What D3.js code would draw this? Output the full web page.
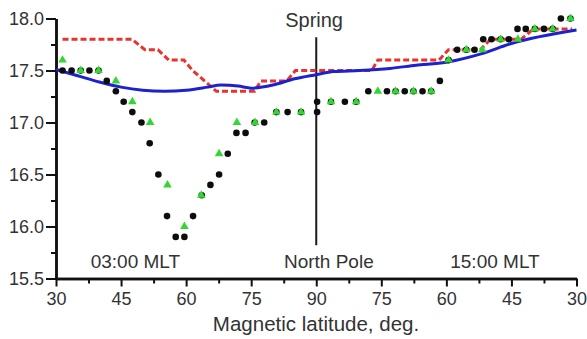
<!DOCTYPE html>
<html>
<head>
<meta charset="utf-8">
<script src="https://cdn.jsdelivr.net/npm/d3@7"></script>
<style>
	body { margin: 0; background: #fff; }
	text { font-family: "Liberation Sans", Arial, sans-serif; fill: #333; }
	.axis path, .axis line { stroke: #111; }
</style>
</head>
<body>
<div id="container"></div>
<script>
// positions along the track in degrees (0 = 30 deg at 03:00 MLT, 60 = pole, 120 = 30 deg at 15:00 MLT)
var xTickPos = [0, 15, 30, 45, 60, 75, 90, 105, 120];
var xTickLabels = ["30", "45", "60", "75", "90", "75", "60", "45", "30"];
var xMinorPos = [7.5, 22.5, 37.5, 52.5, 67.5, 82.5, 97.5, 112.5];
var yTicks = [15.5, 16.0, 16.5, 17.0, 17.5, 18.0];
var yMinor = [15.75, 16.25, 16.75, 17.25, 17.75];

// black dots
var blackPos = [1.5, 3.6, 5.7, 7.7, 9.8, 11.7, 13.8, 15.6, 17.6, 19.7, 21.6, 23.6, 25.6, 27.6, 29.6,
	31.6, 33.6, 35.6, 37.6, 39.6, 41.6, 43.7, 45.8, 48.0, 50.8, 53.4, 56.5, 60.2, 60.2, 63.4, 66.6,
	69.2, 72.0, 76.3, 78.3, 80.4, 82.4, 84.5, 86.5, 88.5, 90.5, 92.5, 94.6, 96.5, 98.5, 100.4,
	102.5, 104.4, 106.4, 108.3, 110.4, 112.5, 114.5, 116.4, 118.6];
var blackVal = [17.5, 17.5, 17.5, 17.5, 17.5, 17.4, 17.3, 17.2, 17.1, 17.0, 16.8, 16.5, 16.1, 15.9, 15.9,
	16.1, 16.3, 16.4, 16.5, 16.7, 16.9, 16.9, 17.0, 17.0, 17.1, 17.1, 17.1, 17.1, 17.2, 17.2, 17.2,
	17.2, 17.3, 17.3, 17.3, 17.3, 17.3, 17.3, 17.3, 17.4, 17.6, 17.7, 17.7, 17.7, 17.8, 17.8,
	17.8, 17.8, 17.9, 17.9, 17.9, 17.9, 17.9, 18.0, 18.0];

// green triangles
var greenPos = [1.5, 5.7, 9.8, 13.8, 17.6, 21.7, 25.7, 29.6, 33.5, 37.6, 41.7, 45.9, 50.8, 56.5,
	63.4, 69.2, 74.2, 78.3, 82.4, 86.5, 90.5, 94.6, 98.3, 102.5, 106.5, 110.4, 114.5, 118.6];
var greenVal = [17.6, 17.5, 17.5, 17.4, 17.2, 17.0, 16.4, 16.0, 16.3, 16.7, 17.0, 17.0, 17.1, 17.1,
	17.2, 17.2, 17.3, 17.3, 17.3, 17.3, 17.6, 17.7, 17.7, 17.8, 17.8, 17.9, 17.9, 18.0];

// red dashed model
var redPos = [1.5, 17.5, 20.5, 23.5, 26, 29.5, 31.5, 37, 45.8, 47.2, 53.2, 55.2, 72.8, 74.2,
	88.3, 90.5, 97.8, 100.2, 107.2, 110.1, 119];
var redVal = [17.8, 17.8, 17.7, 17.7, 17.6, 17.6, 17.5, 17.3, 17.3, 17.4, 17.4, 17.5, 17.5, 17.6,
	17.6, 17.7, 17.7, 17.8, 17.8, 17.9, 17.9];

// blue solid model
var bluePos = [0, 5, 10, 15, 20, 25, 30, 35, 38, 42, 45, 50, 55, 60, 64, 70, 77, 83, 90, 98, 105, 120];
var blueVal = [17.51, 17.45, 17.39, 17.34, 17.31, 17.30, 17.31, 17.34, 17.36, 17.35, 17.33, 17.36,
	17.42, 17.46, 17.49, 17.50, 17.52, 17.55, 17.58, 17.66, 17.76, 17.89];

var polePos = 60, poleTop = 17.82, poleBottom = 15.82;

var W = 587, H = 339;

var xScale = d3.scaleLinear()
	.domain([0, 120])
	.range([56, 576.5]);

var yScale = d3.scaleLinear()
	.domain([15.5, 18.0])
	.range([278.5, 18.5]);

var svg = d3.select("#container")
	.append("svg")
		.attr("width", W)
		.attr("height", H);

// vertical pole line
svg.append("line")
	.attr("x1", xScale(polePos))
	.attr("x2", xScale(polePos))
	.attr("y1", yScale(poleTop))
	.attr("y2", yScale(poleBottom))
	.attr("stroke", "#1a1a1a")
	.attr("stroke-width", 2);

// axes
var yAxis = d3.axisLeft(yScale)
	.tickValues(yTicks)
	.tickFormat(d3.format(".1f"))
	.tickSize(10)
	.tickSizeOuter(0)
	.tickPadding(2);

var yMinorAxis = d3.axisLeft(yScale)
	.tickValues(yMinor)
	.tickFormat("")
	.tickSize(5)
	.tickSizeOuter(0);

var xAxis = d3.axisBottom(xScale)
	.tickValues(xTickPos)
	.tickFormat(function(d, i) { return xTickLabels[i]; })
	.tickSize(8)
	.tickSizeOuter(0)
	.tickPadding(6);

var xMinorAxis = d3.axisBottom(xScale)
	.tickValues(xMinorPos)
	.tickFormat("")
	.tickSize(5)
	.tickSizeOuter(0);

svg.append("g")
	.attr("class", "axis")
	.attr("transform", "translate(" + xScale(0) + ",0)")
	.call(yAxis);
svg.append("g")
	.attr("class", "axis")
	.attr("transform", "translate(" + xScale(0) + ",0)")
	.call(yMinorAxis);

svg.append("g")
	.attr("class", "axis")
	.attr("transform", "translate(0," + yScale(15.5) + ")")
	.call(xAxis);
svg.append("g")
	.attr("class", "axis")
	.attr("transform", "translate(0," + yScale(15.5) + ")")
	.call(xMinorAxis);

svg.selectAll(".axis path").attr("stroke-width", 2.5);
svg.selectAll(".axis line").attr("stroke-width", 2);
svg.selectAll(".axis text")
	.attr("fill", "#333")
	.style("font-size", "18px");

// model lines
var redData = redPos.map(function(d, i) { return [d, redVal[i]]; });
var blueData = bluePos.map(function(d, i) { return [d, blueVal[i]]; });

var line = d3.line()
	.x(function(d) { return xScale(d[0]); })
	.y(function(d) { return yScale(d[1]); });

svg.append("path")
	.datum(redData)
	.attr("d", line)
	.attr("fill", "none")
	.attr("stroke", "#e8322c")
	.attr("stroke-width", 3)
	.attr("stroke-dasharray", "6,3");

svg.append("path")
	.datum(blueData)
	.attr("d", line.curve(d3.curveMonotoneX))
	.attr("fill", "none")
	.attr("stroke", "#1c22cc")
	.attr("stroke-width", 3);

// observations
svg.selectAll(".dot")
	.data(blackPos)
	.enter()
	.append("circle")
		.attr("class", "dot")
		.attr("cx", function(d) { return xScale(d); })
		.attr("cy", function(d, i) { return yScale(blackVal[i]); })
		.attr("r", 3.3)
		.attr("fill", "#0d0d0d");

svg.selectAll(".tri")
	.data(greenPos)
	.enter()
	.append("path")
		.attr("class", "tri")
		.attr("d", d3.symbol().type(d3.symbolTriangle).size(32))
		.attr("transform", function(d, i) { return "translate(" + xScale(d) + "," + yScale(greenVal[i]) + ")"; })
		.attr("fill", "#33d633");

// annotations
svg.append("text")
	.attr("x", xScale(59.5))
	.attr("y", 27)
	.attr("text-anchor", "middle")
	.style("font-size", "20px")
	.text("Spring");

var notes = [
	{ pos: 18.3, label: "03:00 MLT" },
	{ pos: 62.9, label: "North Pole" },
	{ pos: 101.2, label: "15:00 MLT" }
];

svg.selectAll(".note")
	.data(notes)
	.enter()
	.append("text")
		.attr("class", "note")
		.attr("x", function(d) { return xScale(d.pos); })
		.attr("y", 268)
		.attr("text-anchor", "middle")
		.style("font-size", "19px")
		.text(function(d) { return d.label; });

svg.append("text")
	.attr("x", 316)
	.attr("y", 331)
	.attr("text-anchor", "middle")
	.style("font-size", "20.5px")
	.text("Magnetic latitude, deg.");
</script>
</body>
</html>
